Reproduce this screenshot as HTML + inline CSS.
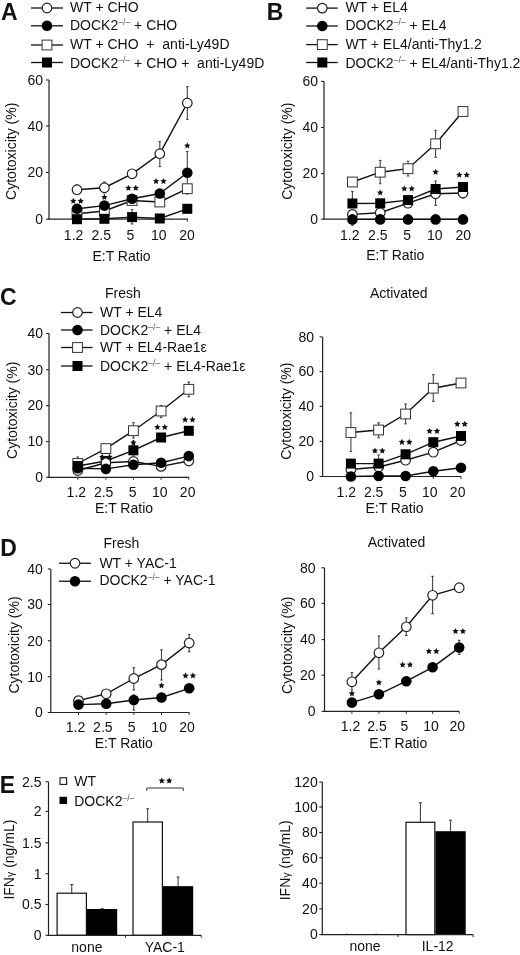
<!DOCTYPE html>
<html><head><meta charset="utf-8"><style>
html,body{margin:0;padding:0;background:#fff;width:520px;height:955px;overflow:hidden}
svg{display:block;filter:grayscale(1)}

</style></head><body>
<svg width="520" height="955" viewBox="0 0 520 955" font-family="Liberation Sans, sans-serif" font-size="14" fill="#111">
<rect width="520" height="955" fill="#fff"/>
<text x="1.00" y="20.00" font-size="23" font-weight="bold">A</text>
<text x="266.80" y="19.80" font-size="23" font-weight="bold">B</text>
<text x="0.00" y="305.20" font-size="23" font-weight="bold">C</text>
<text x="0.30" y="555.60" font-size="23" font-weight="bold">D</text>
<text x="-0.20" y="792.80" font-size="23" font-weight="bold">E</text>
<line x1="31.00" y1="8.00" x2="63.00" y2="8.00" stroke="#111" stroke-width="1.3"/>
<circle cx="47.00" cy="8.00" r="4.8" fill="#fff" stroke="#222" stroke-width="1.2"/>
<text x="70.00" y="12.20">WT + CHO</text>
<line x1="31.00" y1="25.80" x2="63.00" y2="25.80" stroke="#111" stroke-width="1.3"/>
<circle cx="47.00" cy="25.80" r="5.3" fill="#000"/>
<text x="70.00" y="29.60">DOCK2<tspan font-size="8.6" dy="-5.0" fill="#555">&#8211;/&#8211;</tspan><tspan dy="5.0"> + CHO</tspan></text>
<line x1="31.00" y1="45.00" x2="63.00" y2="45.00" stroke="#111" stroke-width="1.3"/>
<rect x="42.10" y="40.10" width="9.8" height="9.8" fill="#fff" stroke="#333" stroke-width="1"/>
<text x="70.00" y="48.80">WT + CHO&#160;&#160;+&#160;&#160;anti-Ly49D</text>
<line x1="31.00" y1="62.50" x2="63.00" y2="62.50" stroke="#111" stroke-width="1.3"/>
<rect x="42.00" y="57.50" width="10" height="10" fill="#000"/>
<text x="70.00" y="67.50">DOCK2<tspan font-size="8.6" dy="-5.0" fill="#555">&#8211;/&#8211;</tspan><tspan dy="5.0"> + CHO +&#160;&#160;anti-Ly49D</tspan></text>
<line x1="49.00" y1="80.00" x2="49.00" y2="219.20" stroke="#222" stroke-width="1.2"/>
<line x1="46.00" y1="80.00" x2="49.00" y2="80.00" stroke="#222" stroke-width="1.1"/>
<text x="43.00" y="84.80" text-anchor="end">60</text>
<line x1="46.00" y1="126.00" x2="49.00" y2="126.00" stroke="#222" stroke-width="1.1"/>
<text x="43.00" y="130.80" text-anchor="end">40</text>
<line x1="46.00" y1="172.50" x2="49.00" y2="172.50" stroke="#222" stroke-width="1.1"/>
<text x="43.00" y="177.30" text-anchor="end">20</text>
<line x1="46.00" y1="219.20" x2="49.00" y2="219.20" stroke="#222" stroke-width="1.1"/>
<text x="43.00" y="224.00" text-anchor="end">0</text>
<line x1="48.40" y1="219.20" x2="188.00" y2="219.20" stroke="#222" stroke-width="1.2"/>
<line x1="77.00" y1="219.20" x2="77.00" y2="221.70" stroke="#333" stroke-width="1"/>
<line x1="104.40" y1="219.20" x2="104.40" y2="221.70" stroke="#333" stroke-width="1"/>
<line x1="132.10" y1="219.20" x2="132.10" y2="221.70" stroke="#333" stroke-width="1"/>
<line x1="159.80" y1="219.20" x2="159.80" y2="221.70" stroke="#333" stroke-width="1"/>
<line x1="187.30" y1="219.20" x2="187.30" y2="221.70" stroke="#333" stroke-width="1"/>
<text x="73.60" y="239.50" text-anchor="middle">1.2</text>
<text x="101.25" y="239.50" text-anchor="middle">2.5</text>
<text x="130.40" y="239.50" text-anchor="middle">5</text>
<text x="158.70" y="239.50" text-anchor="middle">10</text>
<text x="186.95" y="239.50" text-anchor="middle">20</text>
<text x="121.50" y="261.00" text-anchor="middle">E:T Ratio</text>
<text transform="translate(15.50,151.30) rotate(-90)" text-anchor="middle">Cytotoxicity (%)</text>
<line x1="77.00" y1="185.00" x2="77.00" y2="194.00" stroke="#444" stroke-width="1.1"/>
<line x1="75.70" y1="185.00" x2="78.30" y2="185.00" stroke="#444" stroke-width="1.1"/>
<line x1="75.70" y1="194.00" x2="78.30" y2="194.00" stroke="#444" stroke-width="1.1"/>
<line x1="104.40" y1="182.00" x2="104.40" y2="193.00" stroke="#444" stroke-width="1.1"/>
<line x1="103.10" y1="182.00" x2="105.70" y2="182.00" stroke="#444" stroke-width="1.1"/>
<line x1="103.10" y1="193.00" x2="105.70" y2="193.00" stroke="#444" stroke-width="1.1"/>
<line x1="159.80" y1="141.50" x2="159.80" y2="166.50" stroke="#444" stroke-width="1.1"/>
<line x1="158.50" y1="141.50" x2="161.10" y2="141.50" stroke="#444" stroke-width="1.1"/>
<line x1="158.50" y1="166.50" x2="161.10" y2="166.50" stroke="#444" stroke-width="1.1"/>
<line x1="187.30" y1="86.70" x2="187.30" y2="119.40" stroke="#444" stroke-width="1.1"/>
<line x1="186.00" y1="86.70" x2="188.60" y2="86.70" stroke="#444" stroke-width="1.1"/>
<line x1="186.00" y1="119.40" x2="188.60" y2="119.40" stroke="#444" stroke-width="1.1"/>
<line x1="187.30" y1="151.50" x2="187.30" y2="194.00" stroke="#444" stroke-width="1.1"/>
<line x1="186.00" y1="151.50" x2="188.60" y2="151.50" stroke="#444" stroke-width="1.1"/>
<line x1="186.00" y1="194.00" x2="188.60" y2="194.00" stroke="#444" stroke-width="1.1"/>
<line x1="132.10" y1="209.60" x2="132.10" y2="224.00" stroke="#444" stroke-width="1.1"/>
<line x1="130.80" y1="209.60" x2="133.40" y2="209.60" stroke="#444" stroke-width="1.1"/>
<line x1="130.80" y1="224.00" x2="133.40" y2="224.00" stroke="#444" stroke-width="1.1"/>
<polyline points="77.00,189.70 104.40,187.70 132.10,173.80 159.80,153.70 187.30,103.00" fill="none" stroke="#111" stroke-width="1.4"/>
<circle cx="77.00" cy="189.70" r="4.8" fill="#fff" stroke="#222" stroke-width="1.2"/>
<circle cx="104.40" cy="187.70" r="4.8" fill="#fff" stroke="#222" stroke-width="1.2"/>
<circle cx="132.10" cy="173.80" r="4.8" fill="#fff" stroke="#222" stroke-width="1.2"/>
<circle cx="159.80" cy="153.70" r="4.8" fill="#fff" stroke="#222" stroke-width="1.2"/>
<circle cx="187.30" cy="103.00" r="4.8" fill="#fff" stroke="#222" stroke-width="1.2"/>
<polyline points="77.00,213.80 104.40,211.00 132.10,200.50 159.80,202.00 187.30,188.70" fill="none" stroke="#111" stroke-width="1.4"/>
<rect x="72.10" y="208.90" width="9.8" height="9.8" fill="#fff" stroke="#333" stroke-width="1"/>
<rect x="99.50" y="206.10" width="9.8" height="9.8" fill="#fff" stroke="#333" stroke-width="1"/>
<rect x="127.20" y="195.60" width="9.8" height="9.8" fill="#fff" stroke="#333" stroke-width="1"/>
<rect x="154.90" y="197.10" width="9.8" height="9.8" fill="#fff" stroke="#333" stroke-width="1"/>
<rect x="182.40" y="183.80" width="9.8" height="9.8" fill="#fff" stroke="#333" stroke-width="1"/>
<polyline points="77.00,208.80 104.40,205.60 132.10,198.70 159.80,193.50 187.30,172.70" fill="none" stroke="#111" stroke-width="1.4"/>
<circle cx="77.00" cy="208.80" r="5.3" fill="#000"/>
<circle cx="104.40" cy="205.60" r="5.3" fill="#000"/>
<circle cx="132.10" cy="198.70" r="5.3" fill="#000"/>
<circle cx="159.80" cy="193.50" r="5.3" fill="#000"/>
<circle cx="187.30" cy="172.70" r="5.3" fill="#000"/>
<polyline points="77.00,219.20 104.40,218.80 132.10,217.10 159.80,218.50 187.30,208.80" fill="none" stroke="#111" stroke-width="1.4"/>
<rect x="72.00" y="214.20" width="10" height="10" fill="#000"/>
<rect x="99.40" y="213.80" width="10" height="10" fill="#000"/>
<rect x="127.10" y="212.10" width="10" height="10" fill="#000"/>
<rect x="154.80" y="213.50" width="10" height="10" fill="#000"/>
<rect x="182.30" y="203.80" width="10" height="10" fill="#000"/>
<polygon points="73.30,197.65 74.24,199.76 76.53,200.00 74.82,201.54 75.30,203.80 73.30,202.65 71.30,203.80 71.78,201.54 70.07,200.00 72.36,199.76"/>
<polygon points="80.70,197.65 81.64,199.76 83.93,200.00 82.22,201.54 82.70,203.80 80.70,202.65 78.70,203.80 79.18,201.54 77.47,200.00 79.76,199.76"/>
<polygon points="104.40,193.85 105.34,195.96 107.63,196.20 105.92,197.74 106.40,200.00 104.40,198.85 102.40,200.00 102.88,197.74 101.17,196.20 103.46,195.96"/>
<polygon points="128.40,184.65 129.34,186.76 131.63,187.00 129.92,188.54 130.40,190.80 128.40,189.65 126.40,190.80 126.88,188.54 125.17,187.00 127.46,186.76"/>
<polygon points="135.80,184.65 136.74,186.76 139.03,187.00 137.32,188.54 137.80,190.80 135.80,189.65 133.80,190.80 134.28,188.54 132.57,187.00 134.86,186.76"/>
<polygon points="156.10,177.95 157.04,180.06 159.33,180.30 157.62,181.84 158.10,184.10 156.10,182.95 154.10,184.10 154.58,181.84 152.87,180.30 155.16,180.06"/>
<polygon points="163.50,177.95 164.44,180.06 166.73,180.30 165.02,181.84 165.50,184.10 163.50,182.95 161.50,184.10 161.98,181.84 160.27,180.30 162.56,180.06"/>
<polygon points="187.30,142.35 188.24,144.46 190.53,144.70 188.82,146.24 189.30,148.50 187.30,147.35 185.30,148.50 185.78,146.24 184.07,144.70 186.36,144.46"/>
<line x1="306.20" y1="8.10" x2="337.70" y2="8.10" stroke="#111" stroke-width="1.3"/>
<circle cx="322.30" cy="8.10" r="4.8" fill="#fff" stroke="#222" stroke-width="1.2"/>
<text x="345.40" y="12.00">WT + EL4</text>
<line x1="306.20" y1="26.00" x2="337.70" y2="26.00" stroke="#111" stroke-width="1.3"/>
<circle cx="322.30" cy="26.00" r="5.3" fill="#000"/>
<text x="345.40" y="29.80">DOCK2<tspan font-size="8.6" dy="-5.0" fill="#555">&#8211;/&#8211;</tspan><tspan dy="5.0"> + EL4</tspan></text>
<line x1="306.20" y1="44.60" x2="337.70" y2="44.60" stroke="#111" stroke-width="1.3"/>
<rect x="317.40" y="39.70" width="9.8" height="9.8" fill="#fff" stroke="#333" stroke-width="1"/>
<text x="345.40" y="49.40">WT + EL4/anti-Thy1.2</text>
<line x1="306.20" y1="62.50" x2="337.70" y2="62.50" stroke="#111" stroke-width="1.3"/>
<rect x="317.30" y="57.50" width="10" height="10" fill="#000"/>
<text x="345.40" y="67.80">DOCK2<tspan font-size="8.6" dy="-5.0" fill="#555">&#8211;/&#8211;</tspan><tspan dy="5.0"> + EL4/anti-Thy1.2</tspan></text>
<line x1="324.00" y1="81.40" x2="324.00" y2="219.20" stroke="#222" stroke-width="1.2"/>
<line x1="321.00" y1="81.40" x2="324.00" y2="81.40" stroke="#222" stroke-width="1.1"/>
<text x="318.00" y="86.20" text-anchor="end">60</text>
<line x1="321.00" y1="127.50" x2="324.00" y2="127.50" stroke="#222" stroke-width="1.1"/>
<text x="318.00" y="132.30" text-anchor="end">40</text>
<line x1="321.00" y1="173.60" x2="324.00" y2="173.60" stroke="#222" stroke-width="1.1"/>
<text x="318.00" y="178.40" text-anchor="end">20</text>
<line x1="321.00" y1="219.20" x2="324.00" y2="219.20" stroke="#222" stroke-width="1.1"/>
<text x="318.00" y="224.00" text-anchor="end">0</text>
<line x1="323.40" y1="219.20" x2="463.50" y2="219.20" stroke="#222" stroke-width="1.2"/>
<line x1="352.40" y1="219.20" x2="352.40" y2="221.70" stroke="#333" stroke-width="1"/>
<line x1="380.20" y1="219.20" x2="380.20" y2="221.70" stroke="#333" stroke-width="1"/>
<line x1="408.00" y1="219.20" x2="408.00" y2="221.70" stroke="#333" stroke-width="1"/>
<line x1="435.60" y1="219.20" x2="435.60" y2="221.70" stroke="#333" stroke-width="1"/>
<line x1="463.00" y1="219.20" x2="463.00" y2="221.70" stroke="#333" stroke-width="1"/>
<text x="349.75" y="239.60" text-anchor="middle">1.2</text>
<text x="377.85" y="239.60" text-anchor="middle">2.5</text>
<text x="407.05" y="239.60" text-anchor="middle">5</text>
<text x="434.75" y="239.60" text-anchor="middle">10</text>
<text x="463.35" y="239.60" text-anchor="middle">20</text>
<text x="395.30" y="260.40" text-anchor="middle">E:T Ratio</text>
<text transform="translate(292.20,151.20) rotate(-90)" text-anchor="middle">Cytotoxicity (%)</text>
<line x1="435.60" y1="188.00" x2="435.60" y2="205.40" stroke="#444" stroke-width="1.1"/>
<line x1="434.30" y1="188.00" x2="436.90" y2="188.00" stroke="#444" stroke-width="1.1"/>
<line x1="434.30" y1="205.40" x2="436.90" y2="205.40" stroke="#444" stroke-width="1.1"/>
<line x1="463.00" y1="188.00" x2="463.00" y2="198.00" stroke="#444" stroke-width="1.1"/>
<line x1="461.70" y1="188.00" x2="464.30" y2="188.00" stroke="#444" stroke-width="1.1"/>
<line x1="461.70" y1="198.00" x2="464.30" y2="198.00" stroke="#444" stroke-width="1.1"/>
<line x1="352.40" y1="219.40" x2="352.40" y2="225.30" stroke="#444" stroke-width="1.1"/>
<line x1="351.10" y1="219.40" x2="353.70" y2="219.40" stroke="#444" stroke-width="1.1"/>
<line x1="351.10" y1="225.30" x2="353.70" y2="225.30" stroke="#444" stroke-width="1.1"/>
<line x1="380.20" y1="160.40" x2="380.20" y2="183.70" stroke="#444" stroke-width="1.1"/>
<line x1="378.90" y1="160.40" x2="381.50" y2="160.40" stroke="#444" stroke-width="1.1"/>
<line x1="378.90" y1="183.70" x2="381.50" y2="183.70" stroke="#444" stroke-width="1.1"/>
<line x1="408.00" y1="161.20" x2="408.00" y2="176.00" stroke="#444" stroke-width="1.1"/>
<line x1="406.70" y1="161.20" x2="409.30" y2="161.20" stroke="#444" stroke-width="1.1"/>
<line x1="406.70" y1="176.00" x2="409.30" y2="176.00" stroke="#444" stroke-width="1.1"/>
<line x1="435.60" y1="130.40" x2="435.60" y2="157.30" stroke="#444" stroke-width="1.1"/>
<line x1="434.30" y1="130.40" x2="436.90" y2="130.40" stroke="#444" stroke-width="1.1"/>
<line x1="434.30" y1="157.30" x2="436.90" y2="157.30" stroke="#444" stroke-width="1.1"/>
<line x1="352.40" y1="191.50" x2="352.40" y2="203.50" stroke="#444" stroke-width="1.1"/>
<line x1="351.10" y1="191.50" x2="353.70" y2="191.50" stroke="#444" stroke-width="1.1"/>
<line x1="351.10" y1="203.50" x2="353.70" y2="203.50" stroke="#444" stroke-width="1.1"/>
<line x1="435.60" y1="181.00" x2="435.60" y2="197.00" stroke="#444" stroke-width="1.1"/>
<line x1="434.30" y1="181.00" x2="436.90" y2="181.00" stroke="#444" stroke-width="1.1"/>
<line x1="434.30" y1="197.00" x2="436.90" y2="197.00" stroke="#444" stroke-width="1.1"/>
<polyline points="352.40,214.40 380.20,212.70 408.00,203.20 435.60,193.80 463.00,193.00" fill="none" stroke="#111" stroke-width="1.4"/>
<circle cx="352.40" cy="214.40" r="4.8" fill="#fff" stroke="#222" stroke-width="1.2"/>
<circle cx="380.20" cy="212.70" r="4.8" fill="#fff" stroke="#222" stroke-width="1.2"/>
<circle cx="408.00" cy="203.20" r="4.8" fill="#fff" stroke="#222" stroke-width="1.2"/>
<circle cx="435.60" cy="193.80" r="4.8" fill="#fff" stroke="#222" stroke-width="1.2"/>
<circle cx="463.00" cy="193.00" r="4.8" fill="#fff" stroke="#222" stroke-width="1.2"/>
<polyline points="352.40,182.00 380.20,172.20 408.00,168.70 435.60,143.80 463.00,111.50" fill="none" stroke="#111" stroke-width="1.4"/>
<rect x="347.50" y="177.10" width="9.8" height="9.8" fill="#fff" stroke="#333" stroke-width="1"/>
<rect x="375.30" y="167.30" width="9.8" height="9.8" fill="#fff" stroke="#333" stroke-width="1"/>
<rect x="403.10" y="163.80" width="9.8" height="9.8" fill="#fff" stroke="#333" stroke-width="1"/>
<rect x="430.70" y="138.90" width="9.8" height="9.8" fill="#fff" stroke="#333" stroke-width="1"/>
<rect x="458.10" y="106.60" width="9.8" height="9.8" fill="#fff" stroke="#333" stroke-width="1"/>
<polyline points="352.40,219.40 380.20,219.40 408.00,219.40 435.60,219.40 463.00,219.40" fill="none" stroke="#111" stroke-width="1.4"/>
<circle cx="352.40" cy="219.40" r="5.3" fill="#000"/>
<circle cx="380.20" cy="219.40" r="5.3" fill="#000"/>
<circle cx="408.00" cy="219.40" r="5.3" fill="#000"/>
<circle cx="435.60" cy="219.40" r="5.3" fill="#000"/>
<circle cx="463.00" cy="219.40" r="5.3" fill="#000"/>
<polyline points="352.40,203.50 380.20,203.30 408.00,200.10 435.60,189.00 463.00,187.00" fill="none" stroke="#111" stroke-width="1.4"/>
<rect x="347.40" y="198.50" width="10" height="10" fill="#000"/>
<rect x="375.20" y="198.30" width="10" height="10" fill="#000"/>
<rect x="403.00" y="195.10" width="10" height="10" fill="#000"/>
<rect x="430.60" y="184.00" width="10" height="10" fill="#000"/>
<rect x="458.00" y="182.00" width="10" height="10" fill="#000"/>
<polygon points="380.20,189.35 381.14,191.46 383.43,191.70 381.72,193.24 382.20,195.50 380.20,194.35 378.20,195.50 378.68,193.24 376.97,191.70 379.26,191.46"/>
<polygon points="404.30,185.35 405.24,187.46 407.53,187.70 405.82,189.24 406.30,191.50 404.30,190.35 402.30,191.50 402.78,189.24 401.07,187.70 403.36,187.46"/>
<polygon points="411.70,185.35 412.64,187.46 414.93,187.70 413.22,189.24 413.70,191.50 411.70,190.35 409.70,191.50 410.18,189.24 408.47,187.70 410.76,187.46"/>
<polygon points="435.60,168.65 436.54,170.76 438.83,171.00 437.12,172.54 437.60,174.80 435.60,173.65 433.60,174.80 434.08,172.54 432.37,171.00 434.66,170.76"/>
<polygon points="459.30,171.55 460.24,173.66 462.53,173.90 460.82,175.44 461.30,177.70 459.30,176.55 457.30,177.70 457.78,175.44 456.07,173.90 458.36,173.66"/>
<polygon points="466.70,171.55 467.64,173.66 469.93,173.90 468.22,175.44 468.70,177.70 466.70,176.55 464.70,177.70 465.18,175.44 463.47,173.90 465.76,173.66"/>
<text x="105.00" y="298.30">Fresh</text>
<text x="370.00" y="297.70">Activated</text>
<line x1="49.00" y1="333.50" x2="49.00" y2="477.30" stroke="#222" stroke-width="1.2"/>
<line x1="46.00" y1="333.50" x2="49.00" y2="333.50" stroke="#222" stroke-width="1.1"/>
<text x="43.00" y="338.30" text-anchor="end">40</text>
<line x1="46.00" y1="369.70" x2="49.00" y2="369.70" stroke="#222" stroke-width="1.1"/>
<text x="43.00" y="374.50" text-anchor="end">30</text>
<line x1="46.00" y1="405.60" x2="49.00" y2="405.60" stroke="#222" stroke-width="1.1"/>
<text x="43.00" y="410.40" text-anchor="end">20</text>
<line x1="46.00" y1="441.60" x2="49.00" y2="441.60" stroke="#222" stroke-width="1.1"/>
<text x="43.00" y="446.40" text-anchor="end">10</text>
<line x1="46.00" y1="477.30" x2="49.00" y2="477.30" stroke="#222" stroke-width="1.1"/>
<text x="43.00" y="482.10" text-anchor="end">0</text>
<line x1="48.40" y1="477.30" x2="189.00" y2="477.30" stroke="#222" stroke-width="1.2"/>
<line x1="77.80" y1="477.30" x2="77.80" y2="479.80" stroke="#333" stroke-width="1"/>
<line x1="105.90" y1="477.30" x2="105.90" y2="479.80" stroke="#333" stroke-width="1"/>
<line x1="133.40" y1="477.30" x2="133.40" y2="479.80" stroke="#333" stroke-width="1"/>
<line x1="161.10" y1="477.30" x2="161.10" y2="479.80" stroke="#333" stroke-width="1"/>
<line x1="188.80" y1="477.30" x2="188.80" y2="479.80" stroke="#333" stroke-width="1"/>
<text x="76.35" y="496.50" text-anchor="middle">1.2</text>
<text x="103.65" y="496.50" text-anchor="middle">2.5</text>
<text x="132.65" y="496.50" text-anchor="middle">5</text>
<text x="159.75" y="496.50" text-anchor="middle">10</text>
<text x="187.65" y="496.50" text-anchor="middle">20</text>
<text x="124.00" y="513.00" text-anchor="middle">E:T Ratio</text>
<text transform="translate(17.30,410.30) rotate(-90)" text-anchor="middle">Cytotoxicity (%)</text>
<line x1="77.80" y1="457.00" x2="77.80" y2="466.00" stroke="#444" stroke-width="1.1"/>
<line x1="76.50" y1="457.00" x2="79.10" y2="457.00" stroke="#444" stroke-width="1.1"/>
<line x1="76.50" y1="466.00" x2="79.10" y2="466.00" stroke="#444" stroke-width="1.1"/>
<line x1="133.40" y1="422.60" x2="133.40" y2="438.00" stroke="#444" stroke-width="1.1"/>
<line x1="132.10" y1="422.60" x2="134.70" y2="422.60" stroke="#444" stroke-width="1.1"/>
<line x1="132.10" y1="438.00" x2="134.70" y2="438.00" stroke="#444" stroke-width="1.1"/>
<line x1="161.10" y1="405.50" x2="161.10" y2="417.60" stroke="#444" stroke-width="1.1"/>
<line x1="159.80" y1="405.50" x2="162.40" y2="405.50" stroke="#444" stroke-width="1.1"/>
<line x1="159.80" y1="417.60" x2="162.40" y2="417.60" stroke="#444" stroke-width="1.1"/>
<line x1="188.80" y1="382.00" x2="188.80" y2="396.70" stroke="#444" stroke-width="1.1"/>
<line x1="187.50" y1="382.00" x2="190.10" y2="382.00" stroke="#444" stroke-width="1.1"/>
<line x1="187.50" y1="396.70" x2="190.10" y2="396.70" stroke="#444" stroke-width="1.1"/>
<line x1="133.40" y1="441.00" x2="133.40" y2="455.00" stroke="#444" stroke-width="1.1"/>
<line x1="132.10" y1="441.00" x2="134.70" y2="441.00" stroke="#444" stroke-width="1.1"/>
<line x1="132.10" y1="455.00" x2="134.70" y2="455.00" stroke="#444" stroke-width="1.1"/>
<polyline points="77.80,463.50 105.90,448.60 133.40,430.70 161.10,411.00 188.80,389.30" fill="none" stroke="#111" stroke-width="1.4"/>
<rect x="72.90" y="458.60" width="9.8" height="9.8" fill="#fff" stroke="#333" stroke-width="1"/>
<rect x="101.00" y="443.70" width="9.8" height="9.8" fill="#fff" stroke="#333" stroke-width="1"/>
<rect x="128.50" y="425.80" width="9.8" height="9.8" fill="#fff" stroke="#333" stroke-width="1"/>
<rect x="156.20" y="406.10" width="9.8" height="9.8" fill="#fff" stroke="#333" stroke-width="1"/>
<rect x="183.90" y="384.40" width="9.8" height="9.8" fill="#fff" stroke="#333" stroke-width="1"/>
<polyline points="77.80,466.00 105.90,461.00 133.40,450.30 161.10,437.50 188.80,430.80" fill="none" stroke="#111" stroke-width="1.4"/>
<rect x="72.80" y="461.00" width="10" height="10" fill="#000"/>
<rect x="100.90" y="456.00" width="10" height="10" fill="#000"/>
<rect x="128.40" y="445.30" width="10" height="10" fill="#000"/>
<rect x="156.10" y="432.50" width="10" height="10" fill="#000"/>
<rect x="183.80" y="425.80" width="10" height="10" fill="#000"/>
<polyline points="77.80,470.50 105.90,462.80 133.40,461.50 161.10,466.40 188.80,461.00" fill="none" stroke="#111" stroke-width="1.4"/>
<circle cx="77.80" cy="470.50" r="4.8" fill="#fff" stroke="#222" stroke-width="1.2"/>
<circle cx="105.90" cy="462.80" r="4.8" fill="#fff" stroke="#222" stroke-width="1.2"/>
<circle cx="133.40" cy="461.50" r="4.8" fill="#fff" stroke="#222" stroke-width="1.2"/>
<circle cx="161.10" cy="466.40" r="4.8" fill="#fff" stroke="#222" stroke-width="1.2"/>
<circle cx="188.80" cy="461.00" r="4.8" fill="#fff" stroke="#222" stroke-width="1.2"/>
<polyline points="77.80,468.30 105.90,468.90 133.40,464.70 161.10,462.80 188.80,456.10" fill="none" stroke="#111" stroke-width="1.4"/>
<circle cx="77.80" cy="468.30" r="5.3" fill="#000"/>
<circle cx="105.90" cy="468.90" r="5.3" fill="#000"/>
<circle cx="133.40" cy="464.70" r="5.3" fill="#000"/>
<circle cx="161.10" cy="462.80" r="5.3" fill="#000"/>
<circle cx="188.80" cy="456.10" r="5.3" fill="#000"/>
<polygon points="102.20,453.65 103.14,455.76 105.43,456.00 103.72,457.54 104.20,459.80 102.20,458.65 100.20,459.80 100.68,457.54 98.97,456.00 101.26,455.76"/>
<polygon points="109.60,453.65 110.54,455.76 112.83,456.00 111.12,457.54 111.60,459.80 109.60,458.65 107.60,459.80 108.08,457.54 106.37,456.00 108.66,455.76"/>
<polygon points="133.40,439.45 134.34,441.56 136.63,441.80 134.92,443.34 135.40,445.60 133.40,444.45 131.40,445.60 131.88,443.34 130.17,441.80 132.46,441.56"/>
<polygon points="157.40,423.85 158.34,425.96 160.63,426.20 158.92,427.74 159.40,430.00 157.40,428.85 155.40,430.00 155.88,427.74 154.17,426.20 156.46,425.96"/>
<polygon points="164.80,423.85 165.74,425.96 168.03,426.20 166.32,427.74 166.80,430.00 164.80,428.85 162.80,430.00 163.28,427.74 161.57,426.20 163.86,425.96"/>
<polygon points="185.10,416.35 186.04,418.46 188.33,418.70 186.62,420.24 187.10,422.50 185.10,421.35 183.10,422.50 183.58,420.24 181.87,418.70 184.16,418.46"/>
<polygon points="192.50,416.35 193.44,418.46 195.73,418.70 194.02,420.24 194.50,422.50 192.50,421.35 190.50,422.50 190.98,420.24 189.27,418.70 191.56,418.46"/>
<line x1="61.00" y1="312.50" x2="92.50" y2="312.50" stroke="#111" stroke-width="1.3"/>
<circle cx="77.50" cy="312.50" r="4.8" fill="#fff" stroke="#222" stroke-width="1.2"/>
<text x="100.00" y="316.60">WT + EL4</text>
<line x1="61.00" y1="330.00" x2="92.50" y2="330.00" stroke="#111" stroke-width="1.3"/>
<circle cx="77.50" cy="330.00" r="5.3" fill="#000"/>
<text x="100.00" y="334.80">DOCK2<tspan font-size="8.6" dy="-5.0" fill="#555">&#8211;/&#8211;</tspan><tspan dy="5.0"> + EL4</tspan></text>
<line x1="61.00" y1="347.50" x2="92.50" y2="347.50" stroke="#111" stroke-width="1.3"/>
<rect x="72.60" y="342.60" width="9.8" height="9.8" fill="#fff" stroke="#333" stroke-width="1"/>
<text x="100.00" y="352.30">WT + EL4-Rae1&#949;</text>
<line x1="61.00" y1="366.00" x2="92.50" y2="366.00" stroke="#111" stroke-width="1.3"/>
<rect x="72.50" y="361.00" width="10" height="10" fill="#000"/>
<text x="100.00" y="370.80">DOCK2<tspan font-size="8.6" dy="-5.0" fill="#555">&#8211;/&#8211;</tspan><tspan dy="5.0"> + EL4-Rae1&#949;</tspan></text>
<line x1="322.60" y1="336.90" x2="322.60" y2="476.50" stroke="#222" stroke-width="1.2"/>
<line x1="319.60" y1="336.90" x2="322.60" y2="336.90" stroke="#222" stroke-width="1.1"/>
<text x="314.10" y="341.70" text-anchor="end">80</text>
<line x1="319.60" y1="371.60" x2="322.60" y2="371.60" stroke="#222" stroke-width="1.1"/>
<text x="314.10" y="376.40" text-anchor="end">60</text>
<line x1="319.60" y1="406.40" x2="322.60" y2="406.40" stroke="#222" stroke-width="1.1"/>
<text x="314.10" y="411.20" text-anchor="end">40</text>
<line x1="319.60" y1="441.40" x2="322.60" y2="441.40" stroke="#222" stroke-width="1.1"/>
<text x="314.10" y="446.20" text-anchor="end">20</text>
<line x1="319.60" y1="476.50" x2="322.60" y2="476.50" stroke="#222" stroke-width="1.1"/>
<text x="314.10" y="481.30" text-anchor="end">0</text>
<line x1="322.00" y1="476.50" x2="461.00" y2="476.50" stroke="#222" stroke-width="1.2"/>
<line x1="350.90" y1="476.50" x2="350.90" y2="479.00" stroke="#333" stroke-width="1"/>
<line x1="378.60" y1="476.50" x2="378.60" y2="479.00" stroke="#333" stroke-width="1"/>
<line x1="405.60" y1="476.50" x2="405.60" y2="479.00" stroke="#333" stroke-width="1"/>
<line x1="433.30" y1="476.50" x2="433.30" y2="479.00" stroke="#333" stroke-width="1"/>
<line x1="461.00" y1="476.50" x2="461.00" y2="479.00" stroke="#333" stroke-width="1"/>
<text x="346.35" y="496.50" text-anchor="middle">1.2</text>
<text x="373.65" y="496.50" text-anchor="middle">2.5</text>
<text x="402.85" y="496.50" text-anchor="middle">5</text>
<text x="429.75" y="496.50" text-anchor="middle">10</text>
<text x="457.65" y="496.50" text-anchor="middle">20</text>
<text x="394.50" y="512.70" text-anchor="middle">E:T Ratio</text>
<text transform="translate(291.20,411.20) rotate(-90)" text-anchor="middle">Cytotoxicity (%)</text>
<line x1="350.90" y1="412.80" x2="350.90" y2="451.50" stroke="#444" stroke-width="1.1"/>
<line x1="349.60" y1="412.80" x2="352.20" y2="412.80" stroke="#444" stroke-width="1.1"/>
<line x1="349.60" y1="451.50" x2="352.20" y2="451.50" stroke="#444" stroke-width="1.1"/>
<line x1="378.60" y1="422.80" x2="378.60" y2="437.70" stroke="#444" stroke-width="1.1"/>
<line x1="377.30" y1="422.80" x2="379.90" y2="422.80" stroke="#444" stroke-width="1.1"/>
<line x1="377.30" y1="437.70" x2="379.90" y2="437.70" stroke="#444" stroke-width="1.1"/>
<line x1="405.60" y1="404.00" x2="405.60" y2="423.80" stroke="#444" stroke-width="1.1"/>
<line x1="404.30" y1="404.00" x2="406.90" y2="404.00" stroke="#444" stroke-width="1.1"/>
<line x1="404.30" y1="423.80" x2="406.90" y2="423.80" stroke="#444" stroke-width="1.1"/>
<line x1="433.30" y1="374.70" x2="433.30" y2="401.30" stroke="#444" stroke-width="1.1"/>
<line x1="432.00" y1="374.70" x2="434.60" y2="374.70" stroke="#444" stroke-width="1.1"/>
<line x1="432.00" y1="401.30" x2="434.60" y2="401.30" stroke="#444" stroke-width="1.1"/>
<line x1="378.60" y1="455.00" x2="378.60" y2="470.00" stroke="#444" stroke-width="1.1"/>
<line x1="377.30" y1="455.00" x2="379.90" y2="455.00" stroke="#444" stroke-width="1.1"/>
<line x1="377.30" y1="470.00" x2="379.90" y2="470.00" stroke="#444" stroke-width="1.1"/>
<polyline points="350.90,469.50 378.60,467.00 405.60,460.20 433.30,452.20 461.00,440.50" fill="none" stroke="#111" stroke-width="1.4"/>
<circle cx="350.90" cy="469.50" r="4.8" fill="#fff" stroke="#222" stroke-width="1.2"/>
<circle cx="378.60" cy="467.00" r="4.8" fill="#fff" stroke="#222" stroke-width="1.2"/>
<circle cx="405.60" cy="460.20" r="4.8" fill="#fff" stroke="#222" stroke-width="1.2"/>
<circle cx="433.30" cy="452.20" r="4.8" fill="#fff" stroke="#222" stroke-width="1.2"/>
<circle cx="461.00" cy="440.50" r="4.8" fill="#fff" stroke="#222" stroke-width="1.2"/>
<polyline points="350.90,432.50 378.60,430.00 405.60,414.00 433.30,388.20 461.00,383.00" fill="none" stroke="#111" stroke-width="1.4"/>
<rect x="346.00" y="427.60" width="9.8" height="9.8" fill="#fff" stroke="#333" stroke-width="1"/>
<rect x="373.70" y="425.10" width="9.8" height="9.8" fill="#fff" stroke="#333" stroke-width="1"/>
<rect x="400.70" y="409.10" width="9.8" height="9.8" fill="#fff" stroke="#333" stroke-width="1"/>
<rect x="428.40" y="383.30" width="9.8" height="9.8" fill="#fff" stroke="#333" stroke-width="1"/>
<rect x="456.10" y="378.10" width="9.8" height="9.8" fill="#fff" stroke="#333" stroke-width="1"/>
<polyline points="350.90,476.50 378.60,476.00 405.60,476.00 433.30,471.30 461.00,467.80" fill="none" stroke="#111" stroke-width="1.4"/>
<circle cx="350.90" cy="476.50" r="5.3" fill="#000"/>
<circle cx="378.60" cy="476.00" r="5.3" fill="#000"/>
<circle cx="405.60" cy="476.00" r="5.3" fill="#000"/>
<circle cx="433.30" cy="471.30" r="5.3" fill="#000"/>
<circle cx="461.00" cy="467.80" r="5.3" fill="#000"/>
<polyline points="350.90,463.60 378.60,463.60 405.60,454.30 433.30,442.20 461.00,436.00" fill="none" stroke="#111" stroke-width="1.4"/>
<rect x="345.90" y="458.60" width="10" height="10" fill="#000"/>
<rect x="373.60" y="458.60" width="10" height="10" fill="#000"/>
<rect x="400.60" y="449.30" width="10" height="10" fill="#000"/>
<rect x="428.30" y="437.20" width="10" height="10" fill="#000"/>
<rect x="456.00" y="431.00" width="10" height="10" fill="#000"/>
<polygon points="374.90,447.45 375.84,449.56 378.13,449.80 376.42,451.34 376.90,453.60 374.90,452.45 372.90,453.60 373.38,451.34 371.67,449.80 373.96,449.56"/>
<polygon points="382.30,447.45 383.24,449.56 385.53,449.80 383.82,451.34 384.30,453.60 382.30,452.45 380.30,453.60 380.78,451.34 379.07,449.80 381.36,449.56"/>
<polygon points="401.90,438.75 402.84,440.86 405.13,441.10 403.42,442.64 403.90,444.90 401.90,443.75 399.90,444.90 400.38,442.64 398.67,441.10 400.96,440.86"/>
<polygon points="409.30,438.75 410.24,440.86 412.53,441.10 410.82,442.64 411.30,444.90 409.30,443.75 407.30,444.90 407.78,442.64 406.07,441.10 408.36,440.86"/>
<polygon points="429.60,427.75 430.54,429.86 432.83,430.10 431.12,431.64 431.60,433.90 429.60,432.75 427.60,433.90 428.08,431.64 426.37,430.10 428.66,429.86"/>
<polygon points="437.00,427.75 437.94,429.86 440.23,430.10 438.52,431.64 439.00,433.90 437.00,432.75 435.00,433.90 435.48,431.64 433.77,430.10 436.06,429.86"/>
<polygon points="457.30,420.75 458.24,422.86 460.53,423.10 458.82,424.64 459.30,426.90 457.30,425.75 455.30,426.90 455.78,424.64 454.07,423.10 456.36,422.86"/>
<polygon points="464.70,420.75 465.64,422.86 467.93,423.10 466.22,424.64 466.70,426.90 464.70,425.75 462.70,426.90 463.18,424.64 461.47,423.10 463.76,422.86"/>
<text x="103.50" y="547.50">Fresh</text>
<text x="367.70" y="547.20">Activated</text>
<line x1="50.80" y1="569.00" x2="50.80" y2="712.50" stroke="#222" stroke-width="1.2"/>
<line x1="47.80" y1="569.00" x2="50.80" y2="569.00" stroke="#222" stroke-width="1.1"/>
<text x="42.80" y="573.80" text-anchor="end">40</text>
<line x1="47.80" y1="604.50" x2="50.80" y2="604.50" stroke="#222" stroke-width="1.1"/>
<text x="42.80" y="609.30" text-anchor="end">30</text>
<line x1="47.80" y1="640.70" x2="50.80" y2="640.70" stroke="#222" stroke-width="1.1"/>
<text x="42.80" y="645.50" text-anchor="end">20</text>
<line x1="47.80" y1="676.70" x2="50.80" y2="676.70" stroke="#222" stroke-width="1.1"/>
<text x="42.80" y="681.50" text-anchor="end">10</text>
<line x1="47.80" y1="712.50" x2="50.80" y2="712.50" stroke="#222" stroke-width="1.1"/>
<text x="42.80" y="717.30" text-anchor="end">0</text>
<line x1="50.20" y1="712.50" x2="189.50" y2="712.50" stroke="#222" stroke-width="1.2"/>
<line x1="78.50" y1="712.50" x2="78.50" y2="715.00" stroke="#333" stroke-width="1"/>
<line x1="106.20" y1="712.50" x2="106.20" y2="715.00" stroke="#333" stroke-width="1"/>
<line x1="133.80" y1="712.50" x2="133.80" y2="715.00" stroke="#333" stroke-width="1"/>
<line x1="161.50" y1="712.50" x2="161.50" y2="715.00" stroke="#333" stroke-width="1"/>
<line x1="189.20" y1="712.50" x2="189.20" y2="715.00" stroke="#333" stroke-width="1"/>
<text x="75.55" y="731.70" text-anchor="middle">1.2</text>
<text x="102.85" y="731.70" text-anchor="middle">2.5</text>
<text x="131.75" y="731.70" text-anchor="middle">5</text>
<text x="159.15" y="731.70" text-anchor="middle">10</text>
<text x="186.95" y="731.70" text-anchor="middle">20</text>
<text x="123.80" y="747.50" text-anchor="middle">E:T Ratio</text>
<text transform="translate(19.00,645.00) rotate(-90)" text-anchor="middle">Cytotoxicity (%)</text>
<line x1="133.80" y1="667.70" x2="133.80" y2="690.00" stroke="#444" stroke-width="1.1"/>
<line x1="132.50" y1="667.70" x2="135.10" y2="667.70" stroke="#444" stroke-width="1.1"/>
<line x1="132.50" y1="690.00" x2="135.10" y2="690.00" stroke="#444" stroke-width="1.1"/>
<line x1="161.50" y1="649.80" x2="161.50" y2="680.00" stroke="#444" stroke-width="1.1"/>
<line x1="160.20" y1="649.80" x2="162.80" y2="649.80" stroke="#444" stroke-width="1.1"/>
<line x1="160.20" y1="680.00" x2="162.80" y2="680.00" stroke="#444" stroke-width="1.1"/>
<line x1="189.20" y1="634.50" x2="189.20" y2="651.70" stroke="#444" stroke-width="1.1"/>
<line x1="187.90" y1="634.50" x2="190.50" y2="634.50" stroke="#444" stroke-width="1.1"/>
<line x1="187.90" y1="651.70" x2="190.50" y2="651.70" stroke="#444" stroke-width="1.1"/>
<line x1="133.80" y1="695.00" x2="133.80" y2="710.00" stroke="#444" stroke-width="1.1"/>
<line x1="132.50" y1="695.00" x2="135.10" y2="695.00" stroke="#444" stroke-width="1.1"/>
<line x1="132.50" y1="710.00" x2="135.10" y2="710.00" stroke="#444" stroke-width="1.1"/>
<polyline points="78.50,700.60 106.20,693.80 133.80,678.50 161.50,664.60 189.20,643.00" fill="none" stroke="#111" stroke-width="1.4"/>
<circle cx="78.50" cy="700.60" r="4.8" fill="#fff" stroke="#222" stroke-width="1.2"/>
<circle cx="106.20" cy="693.80" r="4.8" fill="#fff" stroke="#222" stroke-width="1.2"/>
<circle cx="133.80" cy="678.50" r="4.8" fill="#fff" stroke="#222" stroke-width="1.2"/>
<circle cx="161.50" cy="664.60" r="4.8" fill="#fff" stroke="#222" stroke-width="1.2"/>
<circle cx="189.20" cy="643.00" r="4.8" fill="#fff" stroke="#222" stroke-width="1.2"/>
<polyline points="78.50,704.60 106.20,703.70 133.80,700.00 161.50,697.50 189.20,688.30" fill="none" stroke="#111" stroke-width="1.4"/>
<circle cx="78.50" cy="704.60" r="5.3" fill="#000"/>
<circle cx="106.20" cy="703.70" r="5.3" fill="#000"/>
<circle cx="133.80" cy="700.00" r="5.3" fill="#000"/>
<circle cx="161.50" cy="697.50" r="5.3" fill="#000"/>
<circle cx="189.20" cy="688.30" r="5.3" fill="#000"/>
<polygon points="161.50,682.15 162.44,684.26 164.73,684.50 163.02,686.04 163.50,688.30 161.50,687.15 159.50,688.30 159.98,686.04 158.27,684.50 160.56,684.26"/>
<polygon points="185.50,672.35 186.44,674.46 188.73,674.70 187.02,676.24 187.50,678.50 185.50,677.35 183.50,678.50 183.98,676.24 182.27,674.70 184.56,674.46"/>
<polygon points="192.90,672.35 193.84,674.46 196.13,674.70 194.42,676.24 194.90,678.50 192.90,677.35 190.90,678.50 191.38,676.24 189.67,674.70 191.96,674.46"/>
<line x1="59.00" y1="563.25" x2="91.00" y2="563.25" stroke="#111" stroke-width="1.3"/>
<circle cx="75.00" cy="563.25" r="4.8" fill="#fff" stroke="#222" stroke-width="1.2"/>
<text x="99.40" y="568.20">WT + YAC-1</text>
<line x1="59.00" y1="581.25" x2="91.00" y2="581.25" stroke="#111" stroke-width="1.3"/>
<circle cx="75.00" cy="581.25" r="5.3" fill="#000"/>
<text x="99.40" y="585.20">DOCK2<tspan font-size="8.6" dy="-5.0" fill="#555">&#8211;/&#8211;</tspan><tspan dy="5.0"> + YAC-1</tspan></text>
<line x1="324.50" y1="567.80" x2="324.50" y2="711.40" stroke="#222" stroke-width="1.2"/>
<line x1="321.50" y1="567.80" x2="324.50" y2="567.80" stroke="#222" stroke-width="1.1"/>
<text x="315.50" y="572.60" text-anchor="end">80</text>
<line x1="321.50" y1="603.40" x2="324.50" y2="603.40" stroke="#222" stroke-width="1.1"/>
<text x="315.50" y="608.20" text-anchor="end">60</text>
<line x1="321.50" y1="639.60" x2="324.50" y2="639.60" stroke="#222" stroke-width="1.1"/>
<text x="315.50" y="644.40" text-anchor="end">40</text>
<line x1="321.50" y1="675.20" x2="324.50" y2="675.20" stroke="#222" stroke-width="1.1"/>
<text x="315.50" y="680.00" text-anchor="end">20</text>
<line x1="321.50" y1="711.40" x2="324.50" y2="711.40" stroke="#222" stroke-width="1.1"/>
<text x="315.50" y="716.20" text-anchor="end">0</text>
<line x1="323.90" y1="711.40" x2="459.20" y2="711.40" stroke="#222" stroke-width="1.2"/>
<line x1="351.90" y1="711.40" x2="351.90" y2="713.90" stroke="#333" stroke-width="1"/>
<line x1="378.90" y1="711.40" x2="378.90" y2="713.90" stroke="#333" stroke-width="1"/>
<line x1="406.30" y1="711.40" x2="406.30" y2="713.90" stroke="#333" stroke-width="1"/>
<line x1="432.60" y1="711.40" x2="432.60" y2="713.90" stroke="#333" stroke-width="1"/>
<line x1="459.20" y1="711.40" x2="459.20" y2="713.90" stroke="#333" stroke-width="1"/>
<text x="350.50" y="731.40" text-anchor="middle">1.2</text>
<text x="377.00" y="731.40" text-anchor="middle">2.5</text>
<text x="404.35" y="731.40" text-anchor="middle">5</text>
<text x="431.05" y="731.40" text-anchor="middle">10</text>
<text x="457.25" y="731.40" text-anchor="middle">20</text>
<text x="398.20" y="747.60" text-anchor="middle">E:T Ratio</text>
<text transform="translate(292.40,645.30) rotate(-90)" text-anchor="middle">Cytotoxicity (%)</text>
<line x1="351.90" y1="672.50" x2="351.90" y2="690.00" stroke="#444" stroke-width="1.1"/>
<line x1="350.60" y1="672.50" x2="353.20" y2="672.50" stroke="#444" stroke-width="1.1"/>
<line x1="350.60" y1="690.00" x2="353.20" y2="690.00" stroke="#444" stroke-width="1.1"/>
<line x1="378.90" y1="636.00" x2="378.90" y2="669.00" stroke="#444" stroke-width="1.1"/>
<line x1="377.60" y1="636.00" x2="380.20" y2="636.00" stroke="#444" stroke-width="1.1"/>
<line x1="377.60" y1="669.00" x2="380.20" y2="669.00" stroke="#444" stroke-width="1.1"/>
<line x1="406.30" y1="617.80" x2="406.30" y2="635.50" stroke="#444" stroke-width="1.1"/>
<line x1="405.00" y1="617.80" x2="407.60" y2="617.80" stroke="#444" stroke-width="1.1"/>
<line x1="405.00" y1="635.50" x2="407.60" y2="635.50" stroke="#444" stroke-width="1.1"/>
<line x1="432.60" y1="576.30" x2="432.60" y2="613.60" stroke="#444" stroke-width="1.1"/>
<line x1="431.30" y1="576.30" x2="433.90" y2="576.30" stroke="#444" stroke-width="1.1"/>
<line x1="431.30" y1="613.60" x2="433.90" y2="613.60" stroke="#444" stroke-width="1.1"/>
<line x1="459.20" y1="640.30" x2="459.20" y2="654.50" stroke="#444" stroke-width="1.1"/>
<line x1="457.90" y1="640.30" x2="460.50" y2="640.30" stroke="#444" stroke-width="1.1"/>
<line x1="457.90" y1="654.50" x2="460.50" y2="654.50" stroke="#444" stroke-width="1.1"/>
<polyline points="351.90,681.80 378.90,652.80 406.30,626.80 432.60,595.30 459.20,587.70" fill="none" stroke="#111" stroke-width="1.4"/>
<circle cx="351.90" cy="681.80" r="4.8" fill="#fff" stroke="#222" stroke-width="1.2"/>
<circle cx="378.90" cy="652.80" r="4.8" fill="#fff" stroke="#222" stroke-width="1.2"/>
<circle cx="406.30" cy="626.80" r="4.8" fill="#fff" stroke="#222" stroke-width="1.2"/>
<circle cx="432.60" cy="595.30" r="4.8" fill="#fff" stroke="#222" stroke-width="1.2"/>
<circle cx="459.20" cy="587.70" r="4.8" fill="#fff" stroke="#222" stroke-width="1.2"/>
<polyline points="351.90,702.60 378.90,694.30 406.30,681.20 432.60,667.30 459.20,647.60" fill="none" stroke="#111" stroke-width="1.4"/>
<circle cx="351.90" cy="702.60" r="5.3" fill="#000"/>
<circle cx="378.90" cy="694.30" r="5.3" fill="#000"/>
<circle cx="406.30" cy="681.20" r="5.3" fill="#000"/>
<circle cx="432.60" cy="667.30" r="5.3" fill="#000"/>
<circle cx="459.20" cy="647.60" r="5.3" fill="#000"/>
<polygon points="351.90,690.25 352.84,692.36 355.13,692.60 353.42,694.14 353.90,696.40 351.90,695.25 349.90,696.40 350.38,694.14 348.67,692.60 350.96,692.36"/>
<polygon points="378.90,679.15 379.84,681.26 382.13,681.50 380.42,683.04 380.90,685.30 378.90,684.15 376.90,685.30 377.38,683.04 375.67,681.50 377.96,681.26"/>
<polygon points="402.60,661.45 403.54,663.56 405.83,663.80 404.12,665.34 404.60,667.60 402.60,666.45 400.60,667.60 401.08,665.34 399.37,663.80 401.66,663.56"/>
<polygon points="410.00,661.45 410.94,663.56 413.23,663.80 411.52,665.34 412.00,667.60 410.00,666.45 408.00,667.60 408.48,665.34 406.77,663.80 409.06,663.56"/>
<polygon points="428.90,647.95 429.84,650.06 432.13,650.30 430.42,651.84 430.90,654.10 428.90,652.95 426.90,654.10 427.38,651.84 425.67,650.30 427.96,650.06"/>
<polygon points="436.30,647.95 437.24,650.06 439.53,650.30 437.82,651.84 438.30,654.10 436.30,652.95 434.30,654.10 434.78,651.84 433.07,650.30 435.36,650.06"/>
<polygon points="455.50,627.95 456.44,630.06 458.73,630.30 457.02,631.84 457.50,634.10 455.50,632.95 453.50,634.10 453.98,631.84 452.27,630.30 454.56,630.06"/>
<polygon points="462.90,627.95 463.84,630.06 466.13,630.30 464.42,631.84 464.90,634.10 462.90,632.95 460.90,634.10 461.38,631.84 459.67,630.30 461.96,630.06"/>
<line x1="48.50" y1="781.75" x2="48.50" y2="935.30" stroke="#222" stroke-width="1.2"/>
<line x1="45.50" y1="781.75" x2="48.50" y2="781.75" stroke="#222" stroke-width="1.1"/>
<text x="41.50" y="786.55" text-anchor="end">2.5</text>
<line x1="45.50" y1="811.40" x2="48.50" y2="811.40" stroke="#222" stroke-width="1.1"/>
<text x="41.50" y="816.20" text-anchor="end">2</text>
<line x1="45.50" y1="842.80" x2="48.50" y2="842.80" stroke="#222" stroke-width="1.1"/>
<text x="41.50" y="847.60" text-anchor="end">1.5</text>
<line x1="45.50" y1="873.70" x2="48.50" y2="873.70" stroke="#222" stroke-width="1.1"/>
<text x="41.50" y="878.50" text-anchor="end">1</text>
<line x1="45.50" y1="904.50" x2="48.50" y2="904.50" stroke="#222" stroke-width="1.1"/>
<text x="41.50" y="909.30" text-anchor="end">0.5</text>
<line x1="45.50" y1="935.30" x2="48.50" y2="935.30" stroke="#222" stroke-width="1.1"/>
<text x="41.50" y="940.10" text-anchor="end">0</text>
<line x1="71.75" y1="884.60" x2="71.75" y2="893.20" stroke="#333" stroke-width="1"/>
<line x1="70.25" y1="884.60" x2="73.25" y2="884.60" stroke="#333" stroke-width="1"/>
<rect x="57.10" y="893.20" width="29.30" height="42.10" fill="#fff" stroke="#111" stroke-width="1.2"/>
<line x1="102.10" y1="908.60" x2="102.10" y2="909.60" stroke="#333" stroke-width="1"/>
<line x1="100.60" y1="908.60" x2="103.60" y2="908.60" stroke="#333" stroke-width="1"/>
<rect x="87.00" y="909.00" width="30.20" height="26.30" fill="#000"/>
<line x1="147.70" y1="808.75" x2="147.70" y2="822.00" stroke="#333" stroke-width="1"/>
<line x1="146.20" y1="808.75" x2="149.20" y2="808.75" stroke="#333" stroke-width="1"/>
<rect x="133.00" y="822.00" width="29.40" height="113.30" fill="#fff" stroke="#111" stroke-width="1.2"/>
<line x1="178.10" y1="877.00" x2="178.10" y2="886.75" stroke="#333" stroke-width="1"/>
<line x1="176.60" y1="877.00" x2="179.60" y2="877.00" stroke="#333" stroke-width="1"/>
<rect x="163.00" y="886.15" width="30.20" height="49.15" fill="#000"/>
<line x1="47.90" y1="935.30" x2="201.20" y2="935.30" stroke="#222" stroke-width="1.2"/>
<line x1="125.50" y1="935.30" x2="125.50" y2="937.80" stroke="#333" stroke-width="1"/>
<line x1="201.20" y1="935.30" x2="201.20" y2="937.80" stroke="#333" stroke-width="1"/>
<text x="86.90" y="952.00" text-anchor="middle">none</text>
<text x="164.80" y="952.00" text-anchor="middle">YAC-1</text>
<text transform="translate(14.30,859.60) rotate(-90)" text-anchor="middle">IFN<tspan font-size="10.5">&#947;</tspan> (ng/mL)</text>
<rect x="60.0" y="777.8" width="6.6" height="6.6" fill="#fff" stroke="#111" stroke-width="1.1"/>
<rect x="59.5" y="796.8" width="7.6" height="7.2" fill="#000"/>
<text x="74.20" y="786.40">WT</text>
<text x="74.20" y="806.30">DOCK2<tspan font-size="8.6" dy="-5.0" fill="#555">&#8211;/&#8211;</tspan></text>
<polyline points="146.75,791 146.75,788 183.25,788 183.25,791" fill="none" stroke="#333" stroke-width="1"/>
<polygon points="161.80,777.45 162.74,779.56 165.03,779.80 163.32,781.34 163.80,783.60 161.80,782.45 159.80,783.60 160.28,781.34 158.57,779.80 160.86,779.56"/>
<polygon points="169.20,777.45 170.14,779.56 172.43,779.80 170.72,781.34 171.20,783.60 169.20,782.45 167.20,783.60 167.68,781.34 165.97,779.80 168.26,779.56"/>
<line x1="322.30" y1="782.10" x2="322.30" y2="934.60" stroke="#222" stroke-width="1.2"/>
<line x1="319.30" y1="782.10" x2="322.30" y2="782.10" stroke="#222" stroke-width="1.1"/>
<text x="317.70" y="786.90" text-anchor="end">120</text>
<line x1="319.30" y1="807.00" x2="322.30" y2="807.00" stroke="#222" stroke-width="1.1"/>
<text x="317.70" y="811.80" text-anchor="end">100</text>
<line x1="319.30" y1="832.50" x2="322.30" y2="832.50" stroke="#222" stroke-width="1.1"/>
<text x="317.70" y="837.30" text-anchor="end">80</text>
<line x1="319.30" y1="857.80" x2="322.30" y2="857.80" stroke="#222" stroke-width="1.1"/>
<text x="317.70" y="862.60" text-anchor="end">60</text>
<line x1="319.30" y1="883.20" x2="322.30" y2="883.20" stroke="#222" stroke-width="1.1"/>
<text x="317.70" y="888.00" text-anchor="end">40</text>
<line x1="319.30" y1="908.90" x2="322.30" y2="908.90" stroke="#222" stroke-width="1.1"/>
<text x="317.70" y="913.70" text-anchor="end">20</text>
<line x1="319.30" y1="934.60" x2="322.30" y2="934.60" stroke="#222" stroke-width="1.1"/>
<text x="317.70" y="939.40" text-anchor="end">0</text>
<line x1="420.40" y1="802.80" x2="420.40" y2="822.30" stroke="#333" stroke-width="1"/>
<line x1="418.90" y1="802.80" x2="421.90" y2="802.80" stroke="#333" stroke-width="1"/>
<rect x="406.00" y="822.30" width="28.80" height="112.30" fill="#fff" stroke="#111" stroke-width="1.2"/>
<line x1="450.55" y1="820.20" x2="450.55" y2="831.80" stroke="#333" stroke-width="1"/>
<line x1="449.05" y1="820.20" x2="452.05" y2="820.20" stroke="#333" stroke-width="1"/>
<rect x="435.40" y="831.20" width="30.30" height="103.40" fill="#000"/>
<line x1="346.70" y1="933.40" x2="346.70" y2="934.60" stroke="#333" stroke-width="1"/>
<line x1="376.00" y1="933.40" x2="376.00" y2="934.60" stroke="#333" stroke-width="1"/>
<line x1="321.70" y1="934.60" x2="473.10" y2="934.60" stroke="#222" stroke-width="1.2"/>
<line x1="398.00" y1="934.60" x2="398.00" y2="937.10" stroke="#333" stroke-width="1"/>
<line x1="473.10" y1="934.60" x2="473.10" y2="937.10" stroke="#333" stroke-width="1"/>
<text x="365.00" y="950.50" text-anchor="middle">none</text>
<text x="437.70" y="950.50" text-anchor="middle">IL-12</text>
<text transform="translate(289.60,860.30) rotate(-90)" text-anchor="middle">IFN<tspan font-size="10.5">&#947;</tspan> (ng/mL)</text>
</svg>
</body></html>
